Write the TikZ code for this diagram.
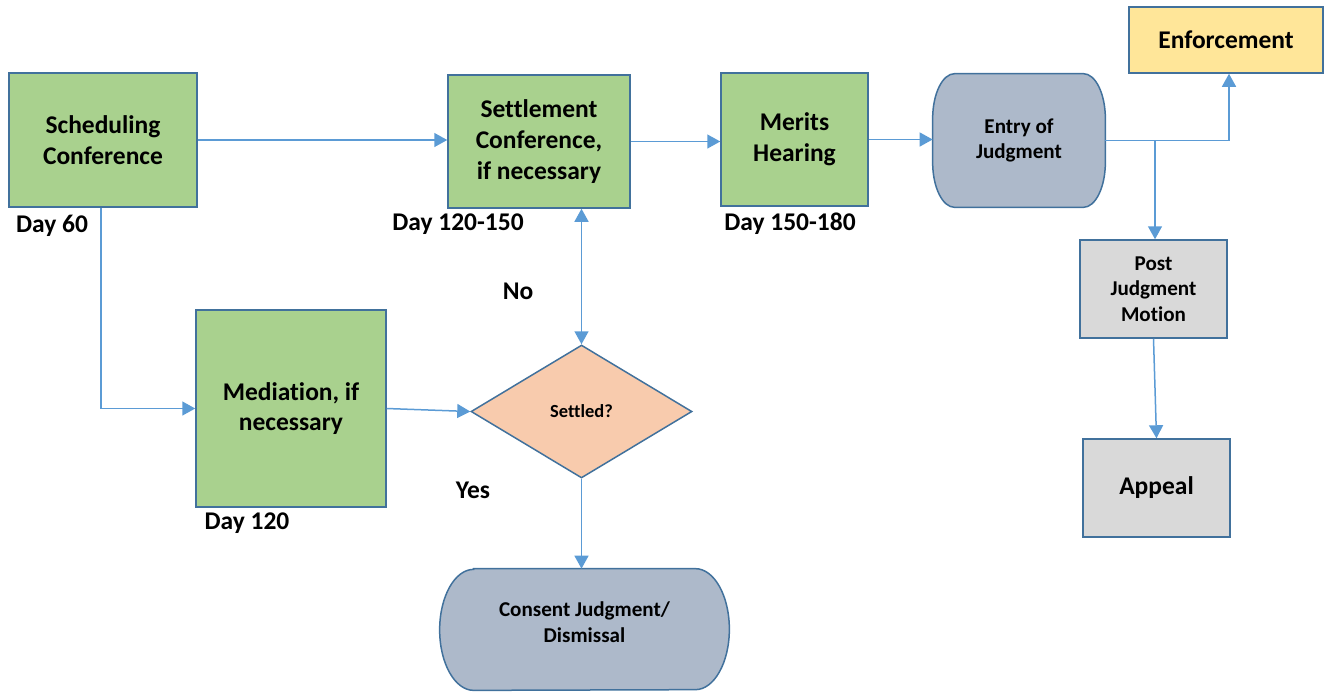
\documentclass[tikz,border=0pt]{standalone}
\usepackage{fontspec}
\setmainfont[Ligatures=NoCommon]{Carlito}
\usetikzlibrary{shapes.geometric, arrows.meta, backgrounds, calc}

\definecolor{boxline}{HTML}{41719C}
\definecolor{flowblue}{HTML}{5B9BD5}
\definecolor{stepgreen}{HTML}{A9D18E}
\definecolor{judgblue}{HTML}{ADB9CA}
\definecolor{askorange}{HTML}{F8CBAD}
\definecolor{enfyellow}{HTML}{FFE699}
\definecolor{postgray}{HTML}{D9D9D9}

\begin{document}
\begin{tikzpicture}[
  x=0.2mm, y=0.2mm,
  bigtext/.style={font=\bfseries\fontsize{14.5}{17.5}\selectfont},
  smalltext/.style={font=\bfseries\fontsize{12}{14.4}\selectfont},
  box/.style={rectangle, draw=boxline, line width=0.3mm, align=center, inner sep=2pt},
  stepbox/.style={box, bigtext, fill=stepgreen},
  grayboxsmall/.style={box, smalltext, fill=postgray},
  grayboxbig/.style={box, bigtext, fill=postgray},
  enfbox/.style={box, bigtext, fill=enfyellow},
  decision/.style={diamond, draw=boxline, line width=0.3mm, fill=askorange,
                   aspect=1.66, inner sep=0pt, font=\bfseries\fontsize{10.5}{12.6}\selectfont},
  termtext/.style={rectangle, align=center, inner sep=0pt, smalltext},
  termshape/.style={draw=boxline, line width=0.3mm, fill=judgblue},
  daylabel/.style={bigtext, inner sep=0pt},
  flow/.style={-{Triangle[length=2.6mm, width=2.8mm]}, draw=flowblue, line width=0.3mm},
  twoway/.style={{Triangle[length=2.6mm, width=2.8mm]}-{Triangle[length=2.6mm, width=2.8mm]}, draw=flowblue, line width=0.3mm}
]
\useasboundingbox (0,0) rectangle (1324,-693);

% main line of steps
\node[stepbox, minimum width=37.6mm, minimum height=26.8mm] (sched) at (103,-140) {Scheduling\\Conference};
\node[stepbox, minimum width=36.4mm, minimum height=26.6mm] (settle) at (539,-141.5) {Settlement\\Conference,\\if necessary};
\node[stepbox, minimum width=29.4mm, minimum height=26.6mm] (merits) at (794.5,-139.5) {Merits\\Hearing};
\node[termtext, minimum width=34.4mm, minimum height=26.6mm] (entry) at (1019,-140.5) {Entry of\\Judgment};
\node[enfbox, minimum width=38.8mm, minimum height=13.2mm] (enforce) at (1226,-40) {Enforcement};
\node[grayboxsmall, minimum width=29.4mm, minimum height=19.6mm] (pjm) at (1153.5,-289) {Post\\Judgment\\Motion};
\node[grayboxbig, minimum width=29.4mm, minimum height=19.6mm] (appeal) at (1156.5,-488) {Appeal};

% mediation branch
\node[stepbox, minimum width=38mm, minimum height=39.4mm] (medi) at (291,-408.5) {Mediation, if\\necessary};
\node[decision, minimum width=44.2mm, minimum height=26.6mm] (settled) at (581.5,-411.5) {Settled?};
\node[termtext, minimum width=57.8mm, minimum height=24.2mm] (consent) at (584.5,-629.5) {Consent Judgment/\\Dismissal\\[-6pt]};

% rounded outlines behind the two end states
\begin{scope}[on background layer]
\draw[termshape] ($(entry.north west)+(22,0)$) -- ($(entry.north east)+(-22,0)$)
  arc[start angle=90, end angle=0, x radius=22, y radius=45]
  -- ($(entry.south east)+(0,45)$)
  arc[start angle=0, end angle=-90, x radius=22, y radius=45]
  -- ($(entry.south west)+(22,0)$)
  arc[start angle=270, end angle=180, x radius=22, y radius=45]
  -- ($(entry.north west)+(0,-45)$)
  arc[start angle=180, end angle=90, x radius=22, y radius=45] -- cycle;
\draw[termshape] ($(consent.north west)+(34,0)$) -- ($(consent.north east)+(-34,0)$)
  arc[start angle=90, end angle=-90, x radius=34, y radius=60.5]
  -- ($(consent.south west)+(34,0)$)
  arc[start angle=270, end angle=90, x radius=34, y radius=60.5] -- cycle;
\end{scope}

% day labels
\node[daylabel] (day60) at (52,-226) {Day 60};
\node[daylabel] (day120150) at (458,-224) {Day 120-150};
\node[daylabel] (day150180) at (790,-224) {Day 150-180};
\node[daylabel] (day120) at (247,-523) {Day 120};
\node[daylabel] (no) at (518,-291) {No};
\node[daylabel] (yes) at (473,-490) {Yes};

% connectors
\draw[flow] (sched.east) -- (sched.east -| settle.west);
\draw[flow] (settle.east) -- (settle.east -| merits.west);
\draw[flow] (merits.east) -- (merits.east -| entry.west);
\draw[flow] ([xshift=-0.4mm]sched.south) |- (medi.west);
\draw[flow] (medi.east) -- (settled.west);
\draw[twoway] (settled.north |- settle.south) -- (settled.north);
\draw[flow] (settled.south) -- (settled.south |- consent.north);
\draw[flow] (entry.east) -| ([xshift=0.6mm]enforce.south);
\coordinate (split) at (entry.east -| pjm.north);
\draw[flow] ([xshift=0.3mm]split) -- ([xshift=0.3mm]pjm.north);
\draw[flow] (pjm.south) -- (appeal.north);
\end{tikzpicture}
\end{document}
